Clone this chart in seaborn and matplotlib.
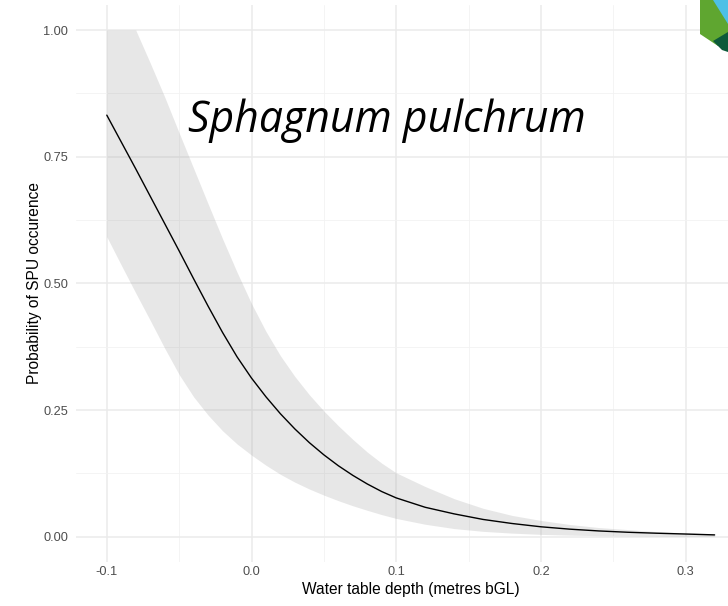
import numpy as np
import pandas as pd
import matplotlib
matplotlib.use("Agg")
import matplotlib.pyplot as plt
from matplotlib.patches import Polygon
import seaborn as sns

# ---- data ----
depth = [-0.10, -0.09, -0.08, -0.07, -0.06, -0.05, -0.04, -0.03, -0.02, -0.01,
         0.00, 0.01, 0.02, 0.03, 0.04, 0.05, 0.06, 0.07, 0.08, 0.09,
         0.10, 0.12, 0.14, 0.16, 0.18, 0.20, 0.22, 0.24, 0.26, 0.28,
         0.30, 0.32]
prob = [0.832, 0.779, 0.726, 0.672, 0.618, 0.564, 0.509, 0.455, 0.403, 0.355,
        0.313, 0.276, 0.2425, 0.2125, 0.1855, 0.1615, 0.140, 0.121, 0.104, 0.089,
        0.0765, 0.058, 0.045, 0.034, 0.026, 0.0195, 0.0148, 0.0113, 0.0087, 0.0068,
        0.0052, 0.0035]
upper = [1.000, 1.000, 1.000, 0.935, 0.868, 0.797, 0.727, 0.657, 0.588, 0.522,
         0.460, 0.405, 0.357, 0.316, 0.280, 0.248, 0.219, 0.192, 0.167, 0.145,
         0.126, 0.099, 0.075, 0.056, 0.042, 0.032, 0.024, 0.018, 0.014, 0.010,
         0.0075, 0.005]
lower = [0.592, 0.536, 0.481, 0.427, 0.372, 0.320, 0.276, 0.240, 0.209, 0.183,
         0.161, 0.141, 0.123, 0.1075, 0.094, 0.082, 0.071, 0.061, 0.052, 0.0435,
         0.036, 0.0245, 0.016, 0.0105, 0.007, 0.0045, 0.003, 0.002, 0.0015, 0.001,
         0.0006, 0.0004]

x_ticks = [-0.1, 0.0, 0.1, 0.2, 0.3]
x_tick_labels = ["-0.1", "0.0", "0.1", "0.2", "0.3"]
y_ticks = [0.0, 0.25, 0.5, 0.75, 1.0]
y_tick_labels = ["0.00", "0.25", "0.50", "0.75", "1.00"]

title_text = "Sphagnum pulchrum"
x_label = "Water table depth (metres bGL)"
y_label = "Probability of SPU occurence"

df = pd.DataFrame({"depth": depth, "prob": prob, "upper": upper, "lower": lower})

# ---- figure ----
sns.set_theme(style="white")
plt.rcParams["font.family"] = ["Liberation Sans", "DejaVu Sans"]

W, H = 728, 606
fig = plt.figure(figsize=(W / 100, H / 100), dpi=100)
fig.patch.set_facecolor("white")

# panel: x from 76.4 px to 745 px (cropped at right), y from 4.7 px to 562 px
left_px, right_px, top_px, bottom_px = 76.4, 745.0, 4.7, 562.0
ax = fig.add_axes([left_px / W, (H - bottom_px) / H,
                   (right_px - left_px) / W, (bottom_px - top_px) / H])
ax.set_facecolor("white")

ax.fill_between(df["depth"], df["lower"], df["upper"], color="#999999",
                alpha=0.23, linewidth=0, zorder=2)

sns.lineplot(data=df, x="depth", y="prob", ax=ax, color="black",
             linewidth=1.0, zorder=3)

ax.set_xlim(-0.121, 0.341)
ax.set_ylim(-0.05, 1.05)

ax.set_xticks(x_ticks)
ax.set_xticklabels(x_tick_labels)
ax.set_yticks(y_ticks)
ax.set_yticklabels(y_tick_labels)
ax.set_xticks([-0.05, 0.05, 0.15, 0.25], minor=True)
ax.set_yticks([0.125, 0.375, 0.625, 0.875], minor=True)

ax.grid(True, which="major", color="#ebebeb", linewidth=1.1, zorder=0)
ax.grid(True, which="minor", color="#f2f2f2", linewidth=0.6, zorder=0)
ax.set_axisbelow(True)

for s in ax.spines.values():
    s.set_visible(False)

ax.tick_params(axis="both", which="both", length=0, labelsize=9.2,
               labelcolor="#4d4d4d")
ax.tick_params(axis="x", pad=3)
ax.tick_params(axis="y", pad=6)

ax.set_xlabel(x_label, fontsize=11.2, color="black", labelpad=3)
ax.set_ylabel(y_label, fontsize=11.2, color="black", labelpad=1)

# overlaid species name
fig.text(188 / W, (H - 131.7) / H, title_text, fontsize=30.8, style="italic",
         family=["Open Sans", "DejaVu Sans"], color="black",
         ha="left", va="baseline")

# corner logo fragment
def px(pts):
    return [(x / W, (H - y) / H) for x, y in pts]

fig.patches.append(Polygon(px([(700, 0), (728, 0), (728, 40), (718, 46), (700, 34)]),
                           closed=True, transform=fig.transFigure,
                           facecolor="#5fa630", edgecolor="none"))
fig.patches.append(Polygon(px([(713, 0), (728, 0), (728, 24), (718, 8)]),
                           closed=True, transform=fig.transFigure,
                           facecolor="#4cc0e6", edgecolor="none"))
fig.patches.append(Polygon(px([(713, 41), (728, 32), (728, 52), (722, 50)]),
                           closed=True, transform=fig.transFigure,
                           facecolor="#0c5a3a", edgecolor="none"))

fig.savefig("out.png", dpi=100, facecolor="white")
